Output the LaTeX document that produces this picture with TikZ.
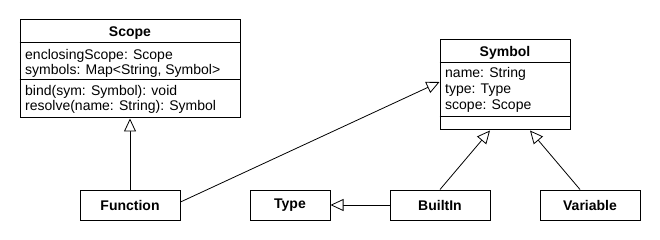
\documentclass[tikz,border=0pt]{standalone}
\usepackage{fontspec}
\setmainfont{Liberation Sans}
\usetikzlibrary{arrows.meta,calc}
\begin{document}
\begin{tikzpicture}[x=1pt,y=-1pt,
  font=\fontsize{14}{16}\selectfont,
  every node/.style={inner sep=0pt},
  classbox/.style={draw, line width=1pt, fill=white, minimum width=#1},
  classbox/.default=100pt,
  boldtext/.style={font=\fontsize{14}{16}\selectfont\bfseries},
  title/.style={boldtext, anchor=base},
  member/.style={anchor=base west},
  sep/.style={line width=1pt},
  gen/.style={line width=0.8pt, -{Triangle[open, length=13pt, width=12pt, fill=white]}}]
  % canvas
  \fill[white] (0,0) rectangle (660,240);
  \useasboundingbox (0,0) rectangle (660,240);

  % class Scope with two compartments
  \node[classbox=220pt, minimum height=98pt] (scope) at (130,69) {};
  \draw[sep] ($(scope.north west)+(0,23)$) -- ($(scope.north east)+(0,23)$);
  \draw[sep] ($(scope.north west)+(0,60)$) -- ($(scope.north east)+(0,60)$);
  \node[title] (scopeT) at (130,37) {Scope};
  \node[member] (scopeA1) at (25,60) {enclosingScope: Scope};
  \node[member] (scopeA2) at (25,75) {symbols: Map<String, Symbol>};
  \node[member] (scopeM1) at (25,96) {bind(sym: Symbol): void};
  \node[member] (scopeM2) at (25,111) {resolve(name: String): Symbol};

  % class Symbol with empty operations compartment
  \node[classbox=130pt, minimum height=90pt] (symbol) at (505,85) {};
  \draw[sep] ($(symbol.north west)+(0,23)$) -- ($(symbol.north east)+(0,23)$);
  \draw[sep] ($(symbol.north west)+(0,77)$) -- ($(symbol.north east)+(0,77)$);
  \node[title] (symbolT) at (505,57) {Symbol};
  \node[member] (symbolA1) at (445,78) {name: String};
  \node[member] (symbolA2) at (445,94) {type: Type};
  \node[member] (symbolA3) at (445,110) {scope: Scope};

  % simple classes
  \node[classbox, minimum height=30pt, boldtext] (function) at (130,205) {Function};
  \node[classbox=80pt, minimum height=30pt, boldtext] (type) at (290,205) {Type};
  \node[classbox, minimum height=30pt, boldtext] (builtin) at (440,205) {BuiltIn};
  \node[classbox, minimum height=30pt, boldtext] (variable) at (590,205) {Variable};

  % generalizations
  \draw[gen] (function.north) -- (scope.south);
  \draw[gen] ($(function.east)+(0,-3)$) -- ($(symbol.west)+(0,-3)$);
  \draw[gen] (builtin.north) -- ($(symbol.south)+(-15,0)$);
  \draw[gen] ($(variable.north)+(-10,0)$) -- ($(symbol.south)+(25,0)$);
  \draw[gen] (builtin.west) -- (type.east);
\end{tikzpicture}
\end{document}
